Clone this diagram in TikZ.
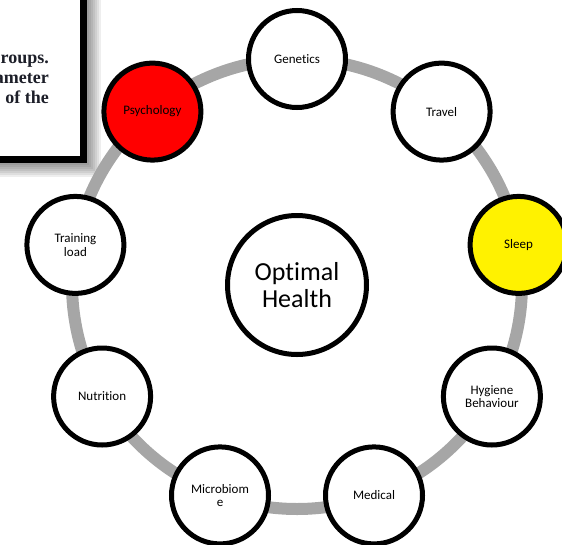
\documentclass[tikz,border=0pt]{standalone}
\usepackage{fontspec}
\setmainfont{Carlito}[Ligatures=NoCommon]
\newfontfamily\boxfont{Liberation Serif}
\begin{document}
\begin{tikzpicture}[x=1pt,y=-1pt,
  ring/.style={draw={rgb,255:red,166;green,166;blue,166}, line width=12pt},
  topic/.style={circle, draw=black, line width=5pt, fill=white, minimum size=97pt,
    inner sep=0pt, align=center, font=\fontsize{13}{13.5}\selectfont},
  hub/.style={circle, draw=black, line width=5pt, fill=white, minimum size=139pt,
    inner sep=0pt, align=center, font=\fontsize{26}{27.5}\selectfont},
  boxtext/.style={anchor=base east, inner sep=0pt,
    font=\boxfont\bfseries\fontsize{18}{20}\selectfont, text={rgb,255:red,28;green,30;blue,40}}]
\useasboundingbox (0,0) rectangle (562,544);
\begin{scope}
\clip (0,0) rectangle (562,544);
% text box with shadow
\foreach \k in {2,4,6,8,10,12,14}{
  \fill[black, opacity=0.065] (-10,-10) rectangle (87+\k,163+\k);
}
\draw[line width=7pt, fill=white] (-10,-10) rectangle (83.5,159.5);
\node[boxtext] (l1) at (49,63) {roups.};
\node[boxtext] (l2) at (49,83) {ameter};
\node[boxtext] (l3) at (49,103) {of the};
% ring
\coordinate (C) at (297,284);
\draw[ring] (C) circle[radius=225];
% nodes
\node[hub] (hub) at (297,285) {Optimal\\Health};
\node[topic] (gen) at (297,59) {Genetics};
\node[topic] (trav) at (441.6,111.6) {Travel};
\node[topic, fill=yellow] (sleep) at (518.6,244.9) {Sleep};
\node[topic] (hyg) at (491.9,396.5) {Hygiene\\Behaviour};
\node[topic] (med) at (374,495.4) {Medical};
\node[topic] (mic) at (220,495.4) {Microbiom\\e};
\node[topic] (nut) at (102.1,396.5) {Nutrition};
\node[topic] (train) at (75.4,244.9) {Training\\load};
\node[topic, fill=red] (psy) at (152.4,111.6) {Psychology};
\end{scope}
\end{tikzpicture}
\end{document}
